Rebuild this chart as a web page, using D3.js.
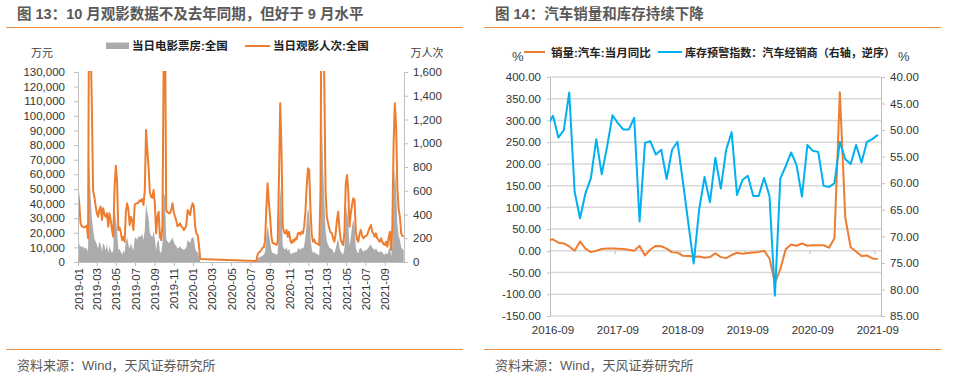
<!DOCTYPE html>
<html><head><meta charset="utf-8">
<script src="https://cdn.jsdelivr.net/npm/d3@7"></script>
<style>
body{margin:0;background:#fff;}
svg{display:block;}
</style></head><body>
<svg id="c" width="968" height="380"></svg>
<script>
// ---------------- Texts ----------------
const fig13Title = "图 13：10 月观影数据不及去年同期，但好于 9 月水平";
const fig14Title = "图 14：汽车销量和库存持续下降";
const sourceText = "资料来源：Wind，天风证券研究所";
const boxSeriesName = "当日电影票房:全国";
const attSeriesName = "当日观影人次:全国";
const leftUnit13 = "万元";
const rightUnit13 = "万人次";
const salesSeriesName = "销量:汽车:当月同比";
const stockSeriesName = "库存预警指数：汽车经销商（右轴，逆序）";

// ---------------- Figure 13 data (sampled every 4 days) ----------------
const seg1Start = "2019-01-01", seg1End = "2020-01-25";
const seg2Start = "2020-07-20", seg2End = "2021-11-01";
const dateTicks13 = ["2019-01","2019-03","2019-05","2019-07","2019-09","2019-11","2020-01","2020-03",
  "2020-05","2020-07","2020-09","2020-11","2021-01","2021-03","2021-05","2021-07","2021-09"];
const boxTicks = [0,10000,20000,30000,40000,50000,60000,70000,80000,90000,100000,110000,120000,130000];
const attTicks = [0,200,400,600,800,1000,1200,1400,1600];

const attendance1 = [
  592,494,330,300,297,290,300,306,200,2800,
  1900,1300,600,550,470,410,381,440,466,354,
  452,400,381,410,297,410,350,269,213,620,
  810,680,270,290,250,185,213,171,420,494,
  440,312,381,350,269,480,494,494,500,520,
  510,530,480,600,1111,950,800,590,550,540,
  606,494,241,380,424,213,185,300,1700,2200,
  438,420,410,410,440,494,420,381,350,300,
  310,326,300,290,269,284,312,438,420,396,
  460,494,466,297,241,227,143,25];
const boxOffice1 = [
  21000,12000,11000,10000,11000,9000,10000,9000,7000,75000,
  45000,30000,22000,16000,14000,12000,9000,14000,12000,7000,
  13000,11000,8000,12000,6000,11000,8000,6000,8000,37000,
  30000,22000,8000,9000,7000,5000,8000,6000,14000,17000,
  12000,9000,13000,10000,8000,16000,17000,15000,18000,17000,
  18000,19000,15000,22000,40000,34000,30000,20000,18000,17000,
  21000,16000,8000,14000,15000,7000,6000,12000,48000,45000,
  16000,14000,13000,14000,15000,17000,14000,12000,11000,9000,
  10000,11000,9000,9000,8000,9000,10000,15000,14000,13000,
  16000,17000,16000,9000,7000,7000,4000,500];
const attendance2 = [
  8,60,80,87,101,120,126,180,450,663,
  500,380,213,160,157,150,143,171,700,1336,
  950,300,250,241,269,213,255,180,160,185,
  171,199,190,241,247,230,255,241,300,420,
  634,789,775,450,230,171,190,160,157,150,
  143,600,3000,2200,1500,600,380,326,280,250,
  241,199,171,240,350,424,284,190,160,143,
  260,650,733,600,297,410,480,536,520,260,
  190,171,241,269,220,199,213,220,227,260,
  290,312,255,240,213,241,200,185,171,199,
  170,150,143,171,129,200,255,101,300,1000,
  1336,1139,620,450,381,241,220,213];
const boxOffice2 = [
  500,2000,3000,3500,4000,4500,5000,7000,18000,25000,
  19000,14000,8000,6000,6000,5500,5000,6000,25000,52000,
  38000,11000,9000,8500,10000,7500,9000,6000,5500,6500,
  6000,7000,6500,9000,9500,8000,10000,9000,11000,17000,
  28000,37000,33000,17000,9000,6000,7000,6000,5500,5000,
  5000,25000,105000,65000,42000,22000,14000,12000,10000,9000,
  9000,7000,6000,9000,13000,16000,10000,7000,6000,5000,
  10000,30000,38000,26000,11000,17000,24000,29000,25000,10000,
  7000,6000,9000,10000,8000,7000,8000,8000,8500,10000,
  11000,12000,10000,9000,8000,9500,7500,7000,6500,7500,
  6500,5500,5000,6500,5000,8000,10000,4000,12000,45000,
  65000,50000,26000,18000,15000,10000,9000,8000];

// ---------------- Figure 14 data (monthly, 2016-08 .. 2021-09) ----------------
const monthStart14 = "2016-08", monthEnd14 = "2021-10";
const monthTicks14 = ["2016-09","2017-09","2018-09","2019-09","2020-09","2021-09"];
const salesYoY = [
  23.5,26.5,18.7,17.0,10.0,
  0.3,21.5,5.0,-3.0,0.3,4.3,5.5,5.5,5.0,4.0,2.5,0.3,
  11.3,-10.5,3.0,11.3,10.5,5.2,-3.5,-4.0,-11.5,-11.8,-13.8,-13.2,
  -15.8,-14.5,-5.5,-14.5,-16.8,-9.7,-4.4,-6.5,-5.0,-3.8,-2.5,0.3,
  -17.6,-74,-42,3.5,14.7,11.7,16.8,11.7,13.0,12.8,12.8,7.2,
  29.0,364.8,76,8.2,-1.5,-11.8,-10.5,-17.5,-18.8];
const stockIndex = [
  49.1,47.3,51.4,50.0,42.9,
  61.6,66.6,61.9,59.1,51.7,58.3,53.1,47.2,48.7,49.9,49.9,47.7,
  67.2,52.4,52.1,54.6,53.7,59.2,53.7,52.2,59.7,67.5,75.1,65.0,
  58.8,63.6,55.2,61.0,53.7,50.4,62.2,59.4,58.6,62.4,62.4,59.0,
  62.4,81.2,59.1,56.8,54.2,56.6,62.5,52.8,53.9,54.1,60.5,60.7,
  60.0,52.2,55.5,56.4,52.8,56.1,52.2,51.7,50.9];
const leftTicks14 = [-150,-100,-50,0,50,100,150,200,250,300,350,400];
const rightTicks14 = [40,45,50,55,60,65,70,75,80,85];

// ---------------- Styles ----------------
const FONT = '"Liberation Sans", Arial, "Noto Sans CJK SC", sans-serif';
const ORANGE = "#ED7D31", GRAYFILL = "#ABABAB", BLUE = "#00B0F0";
const AXIS = "#BFBFBF", GRID = "#D9D9D9", TXT = "#333333", HEAD = "#595959";

const svg = d3.select("#c").attr("font-family", FONT);

function header(x0, x1, tx, title) {
  svg.append("text").attr("x", tx).attr("y", 18.5).attr("font-size", 14.5)
    .attr("font-weight", "bold").attr("fill", HEAD).text(title);
  svg.append("line").attr("x1", x0).attr("x2", x1).attr("y1", 27.5).attr("y2", 27.5)
    .attr("stroke", "#E9914B").attr("stroke-width", 1);
  svg.append("line").attr("x1", x0).attr("x2", x1).attr("y1", 349.5).attr("y2", 349.5)
    .attr("stroke", "#E9914B").attr("stroke-width", 1);
  svg.append("text").attr("x", tx).attr("y", 370).attr("font-size", 13)
    .attr("fill", HEAD).text(sourceText);
}
header(6, 463, 17, fig13Title);
header(484, 941, 495, fig14Title);

function styleAxis(g) {
  g.attr("font-family", FONT).attr("font-size", 11.5);
  g.select(".domain").attr("stroke", AXIS);
  g.selectAll(".tick line").attr("stroke", AXIS);
  g.selectAll(".tick text").attr("fill", TXT);
}

// ================= Figure 13 =================
const parseD = d3.utcParse("%Y-%m-%d");
const parseM = d3.utcParse("%Y-%m");
const dates1 = d3.utcDay.range(parseD(seg1Start), parseD(seg1End), 4);
const dates2 = d3.utcDay.range(parseD(seg2Start), parseD(seg2End), 4);
const s1 = dates1.map((d, i) => ({date: d, box: boxOffice1[i], att: attendance1[i]}));
const s2 = dates2.map((d, i) => ({date: d, box: boxOffice2[i], att: attendance2[i]}));

const xL = d3.scaleUtc().domain([parseD("2019-01-01"), parseD("2021-11-01")]).range([78, 404]);
const yBox = d3.scaleLinear().domain([0, 130000]).range([262, 72]);
const yAtt = d3.scaleLinear().domain([0, 1600]).range([262, 72]);

const defs = svg.append("defs");
defs.append("clipPath").attr("id", "clip13").append("rect")
  .attr("x", 78).attr("y", 71).attr("width", 326).attr("height", 192);
defs.append("clipPath").attr("id", "clip14").append("rect")
  .attr("x", 550).attr("y", 60).attr("width", 331).attr("height", 258);

const p13 = svg.append("g").attr("clip-path", "url(#clip13)");
const area13 = d3.area().x(d => xL(d.date)).y0(yBox(0)).y1(d => yBox(d.box));
[s1, s2].forEach(s => p13.append("path").datum(s).attr("d", area13).attr("fill", GRAYFILL));
const line13 = d3.line().x(d => xL(d.date)).y(d => yAtt(d.att));
p13.append("path").datum(s1.concat(s2)).attr("d", line13)
  .attr("fill", "none").attr("stroke", ORANGE).attr("stroke-width", 2).attr("stroke-linejoin", "round");

const gL = svg.append("g").attr("transform", "translate(78,0)")
  .call(d3.axisLeft(yBox).tickValues(boxTicks).tickFormat(d3.format(",")).tickSize(4).tickPadding(9).tickSizeOuter(0));
styleAxis(gL);
const gR = svg.append("g").attr("transform", "translate(404,0)")
  .call(d3.axisRight(yAtt).tickValues(attTicks).tickFormat(d3.format(",")).tickSize(4).tickPadding(5).tickSizeOuter(0));
styleAxis(gR);
const gB = svg.append("g").attr("transform", "translate(0,262)")
  .call(d3.axisBottom(xL).tickValues(dateTicks13.map(parseM)).tickFormat(d3.utcFormat("%Y-%m")).tickSize(4).tickSizeOuter(0));
styleAxis(gB);
gB.selectAll(".tick text").attr("transform", "rotate(-90)").attr("text-anchor", "end")
  .attr("x", -6).attr("y", 0).attr("dy", "0.35em");

// units & legend
svg.append("text").attr("x", 42).attr("y", 57).attr("text-anchor", "middle").attr("font-size", 11)
  .attr("fill", "#404040").text(leftUnit13);
svg.append("text").attr("x", 427).attr("y", 57).attr("text-anchor", "middle").attr("font-size", 11)
  .attr("fill", "#404040").text(rightUnit13);
svg.append("rect").attr("x", 106).attr("y", 42.5).attr("width", 23).attr("height", 6.5).attr("fill", GRAYFILL);
svg.append("text").attr("x", 132).attr("y", 50).attr("font-size", 11.5).attr("font-weight", "bold")
  .attr("fill", "#222").text(boxSeriesName);
svg.append("line").attr("x1", 245).attr("x2", 270).attr("y1", 46).attr("y2", 46)
  .attr("stroke", ORANGE).attr("stroke-width", 2);
svg.append("text").attr("x", 273).attr("y", 50).attr("font-size", 11.5).attr("font-weight", "bold")
  .attr("fill", "#222").text(attSeriesName);

// ================= Figure 14 =================
const months14 = d3.utcMonth.range(parseM(monthStart14), parseM(monthEnd14)).map(d3.utcFormat("%Y-%m"));
const xR = d3.scaleLinear().domain([0.45, 61.6]).range([550, 881]);
const yA = d3.scaleLinear().domain([-150, 400]).range([316, 77]);
const yB = d3.scaleLinear().domain([40, 85]).range([77, 316]);

const grid = svg.append("g");
leftTicks14.forEach(v => grid.append("line").attr("x1", 550).attr("x2", 881)
  .attr("y1", yA(v)).attr("y2", yA(v)).attr("stroke", GRID).attr("stroke-width", 1.5));

const fmt2 = d => d3.format(".2f")(d).replace("\u2212", "-");
const gA = svg.append("g").attr("transform", "translate(550,0)")
  .call(d3.axisLeft(yA).tickValues(leftTicks14).tickFormat(fmt2).tickSize(3).tickPadding(6).tickSizeOuter(0));
styleAxis(gA);
const gBr = svg.append("g").attr("transform", "translate(881,0)")
  .call(d3.axisRight(yB).tickValues(rightTicks14).tickFormat(fmt2).tickSize(4).tickPadding(5).tickSizeOuter(0));
styleAxis(gBr);

// category ticks on zero line + labels at bottom
monthTicks14.forEach(m => {
  const i = months14.indexOf(m);
  svg.append("line").attr("x1", xR(i - 0.5)).attr("x2", xR(i - 0.5))
    .attr("y1", yA(0)).attr("y2", yA(0) + 3.5).attr("stroke", AXIS);
  svg.append("text").attr("x", xR(i)).attr("y", 333.5).attr("text-anchor", "middle")
    .attr("font-size", 11.5).attr("fill", TXT).text(m);
});

const p14 = svg.append("g").attr("clip-path", "url(#clip14)");
const lineA = d3.line().x((d, i) => xR(i)).y(d => yA(d));
const lineB = d3.line().x((d, i) => xR(i)).y(d => yB(d));
p14.append("path").datum(salesYoY).attr("d", lineA).attr("fill", "none")
  .attr("stroke", ORANGE).attr("stroke-width", 2).attr("stroke-linejoin", "round");
p14.append("path").datum(stockIndex).attr("d", lineB).attr("fill", "none")
  .attr("stroke", BLUE).attr("stroke-width", 2).attr("stroke-linejoin", "round");

// legend
svg.append("text").attr("x", 512).attr("y", 61).attr("font-size", 13).attr("fill", "#404040").text("%");
svg.append("line").attr("x1", 524).attr("x2", 545).attr("y1", 52).attr("y2", 52)
  .attr("stroke", ORANGE).attr("stroke-width", 2);
svg.append("text").attr("x", 551).attr("y", 56.5).attr("font-size", 11.5).attr("font-weight", "bold")
  .attr("fill", "#222").text(salesSeriesName);
svg.append("line").attr("x1", 658).attr("x2", 682).attr("y1", 52).attr("y2", 52)
  .attr("stroke", BLUE).attr("stroke-width", 2);
svg.append("text").attr("x", 685).attr("y", 56.5).attr("font-size", 11).attr("font-weight", "bold")
  .attr("fill", "#222").attr("textLength", 210).attr("lengthAdjust", "spacingAndGlyphs").text(stockSeriesName);
svg.append("text").attr("x", 898).attr("y", 61).attr("font-size", 13).attr("fill", "#404040").text("%");
</script>
</body></html>
